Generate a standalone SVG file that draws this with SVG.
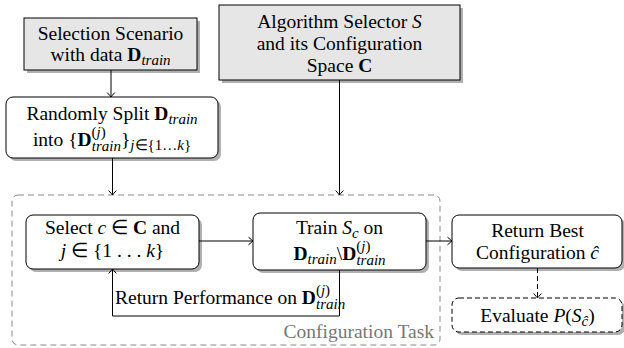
<svg xmlns="http://www.w3.org/2000/svg" width="624" height="348" viewBox="0 0 624 348">
<style>
svg text, svg g text, svg g tspan, :root g text, :root g tspan{font-family:'Liberation Serif','Times New Roman',serif !important}
.t{text-anchor:middle}
.g{fill:#777;text-anchor:end}
.b{font-weight:bold}
.i{font-style:italic}
.s{font-size:15px;font-style:italic}
.sp{font-size:15px}
.box{stroke:#000;stroke-width:1}
.grey{fill:#e6e6e6}
.white{fill:#fff}
.sh{fill:#b0b0b0}
.dash{stroke-dasharray:5,3}
.c{fill:none;stroke:#000;stroke-width:1}
</style>
<rect width="624" height="348" fill="#fff"/>

<g id="container">
<rect x="12" y="195" width="428" height="150" rx="6" fill="none" stroke="#8a8a8a" stroke-width="1" stroke-dasharray="6,4"/>
<text class="g" x="434" y="338" style="font-family:'Liberation Serif',serif !important;font-size:19.5px">Configuration Task</text>
</g>

<g id="scenario">
<rect class="sh" x="27" y="21" width="173" height="52"/>
<rect class="box grey" x="24" y="18" width="173" height="52"/>
<text class="t" x="110.5" y="40" style="font-family:'Liberation Serif',serif !important;font-size:19.5px">Selection Scenario</text>
<text class="t" x="110.5" y="61" style="font-family:'Liberation Serif',serif !important;font-size:19.5px">with data <tspan class="b">D</tspan><tspan class="s" dy="4">train</tspan></text>
</g>

<g id="selector">
<rect class="sh" x="222" y="8" width="241" height="75"/>
<rect class="box grey" x="219" y="5" width="241" height="75"/>
<text class="t" x="339.5" y="28" style="font-family:'Liberation Serif',serif !important;font-size:19.5px">Algorithm Selector <tspan class="i">S</tspan></text>
<text class="t" x="339.5" y="50" style="font-family:'Liberation Serif',serif !important;font-size:19.5px">and its Configuration</text>
<text class="t" x="339.5" y="72" style="font-family:'Liberation Serif',serif !important;font-size:19.5px">Space <tspan class="b">C</tspan></text>
</g>

<g id="split">
<rect class="sh" x="9" y="100" width="212" height="61" rx="7"/>
<rect class="box white" x="6" y="97" width="212" height="61" rx="7"/>
<text class="t" x="112" y="120" style="font-family:'Liberation Serif',serif !important;font-size:19.5px">Randomly Split <tspan class="b">D</tspan><tspan class="s" dy="4">train</tspan></text>
<text class="t" x="112" y="146" style="font-family:'Liberation Serif',serif !important;font-size:19.5px">into {<tspan class="b">D</tspan><tspan class="sp" dy="-9">(<tspan class="i">j</tspan>)</tspan><tspan class="s" dx="-14" dy="14">train</tspan><tspan dy="-5">}</tspan><tspan class="sp" dy="4"><tspan class="i">j</tspan>∈{1…<tspan class="i">k</tspan>}</tspan></text>
</g>

<g id="select">
<rect class="sh" x="29" y="218" width="173" height="54" rx="7"/>
<rect class="box white" x="26" y="215" width="173" height="54" rx="7"/>
<text class="t" x="112.5" y="234" style="font-family:'Liberation Serif',serif !important;font-size:19.5px">Select <tspan class="i">c</tspan> ∈ <tspan class="b">C</tspan> and</text>
<text class="t" x="112.5" y="257" style="font-family:'Liberation Serif',serif !important;font-size:19.5px"><tspan class="i">j</tspan> ∈ {1 . . . <tspan class="i">k</tspan>}</text>
</g>

<g id="train">
<rect class="sh" x="256" y="216" width="173" height="57" rx="7"/>
<rect class="box white" x="253" y="213" width="173" height="57" rx="7"/>
<text class="t" x="339.5" y="234" style="font-family:'Liberation Serif',serif !important;font-size:19.5px">Train <tspan class="i">S</tspan><tspan class="s" dy="4">c</tspan><tspan dy="-4"> on</tspan></text>
<text class="t" x="339.5" y="260" style="font-family:'Liberation Serif',serif !important;font-size:19.5px"><tspan class="b">D</tspan><tspan class="s" dy="4">train</tspan><tspan dy="-4">\</tspan><tspan class="b">D</tspan><tspan class="sp" dy="-9">(<tspan class="i">j</tspan>)</tspan><tspan class="s" dx="-14" dy="14">train</tspan></text>
</g>

<g id="best">
<rect class="sh" x="455" y="218" width="170" height="53" rx="7"/>
<rect class="box white" x="452" y="215" width="170" height="53" rx="7"/>
<text class="t" x="537.5" y="237" style="font-family:'Liberation Serif',serif !important;font-size:19.5px">Return Best</text>
<text class="t" x="537.5" y="259" style="font-family:'Liberation Serif',serif !important;font-size:19.5px">Configuration <tspan class="i">ĉ</tspan></text>
</g>

<g id="evaluate">
<rect class="sh" x="455" y="301" width="170" height="34" rx="7"/>
<rect class="box white dash" x="452" y="298" width="170" height="34" rx="7"/>
<text class="t" x="537.5" y="322" style="font-family:'Liberation Serif',serif !important;font-size:19.5px">Evaluate <tspan class="i">P</tspan>(<tspan class="i">S</tspan><tspan class="sp i" dy="4">ĉ</tspan><tspan dy="-4">)</tspan></text>
</g>

<g id="connectors">
<path class="c" d="M111,70 V97"/>
<path class="c" d="M107.2,92.5 Q110,95.8 111,97 Q112,95.8 114.8,92.5"/>
<path class="c" d="M112.5,158 V195"/>
<path class="c" d="M108.7,190.5 Q111.5,193.8 112.5,195 Q113.5,193.8 116.3,190.5"/>
<path class="c" d="M339.5,80 V195"/>
<path class="c" d="M335.7,190.5 Q338.5,193.8 339.5,195 Q340.5,193.8 343.3,190.5"/>
<path class="c" d="M199,241 H253"/>
<path class="c" d="M248.5,237.2 Q251.8,240 253,241 Q251.8,242 248.5,244.8"/>
<path class="c" d="M426,241 H452"/>
<path class="c" d="M447.5,237.2 Q450.8,240 452,241 Q450.8,242 447.5,244.8"/>
<path class="c" d="M339.5,270 V316 H112.5 V269"/>
<path class="c" d="M108.7,273.5 Q111.5,270.2 112.5,269 Q113.5,270.2 116.3,273.5"/>
<path class="c dash" d="M537.5,268 V298"/>
<path class="c" d="M533.7,293.5 Q536.5,296.8 537.5,298 Q538.5,296.8 541.3,293.5"/>
<text x="115" y="304" style="font-family:'Liberation Serif',serif !important;font-size:19.5px">Return Performance on <tspan class="b">D</tspan><tspan class="sp" dy="-9">(<tspan class="i">j</tspan>)</tspan><tspan class="s" dx="-14" dy="14">train</tspan></text>
</g>
</svg>
